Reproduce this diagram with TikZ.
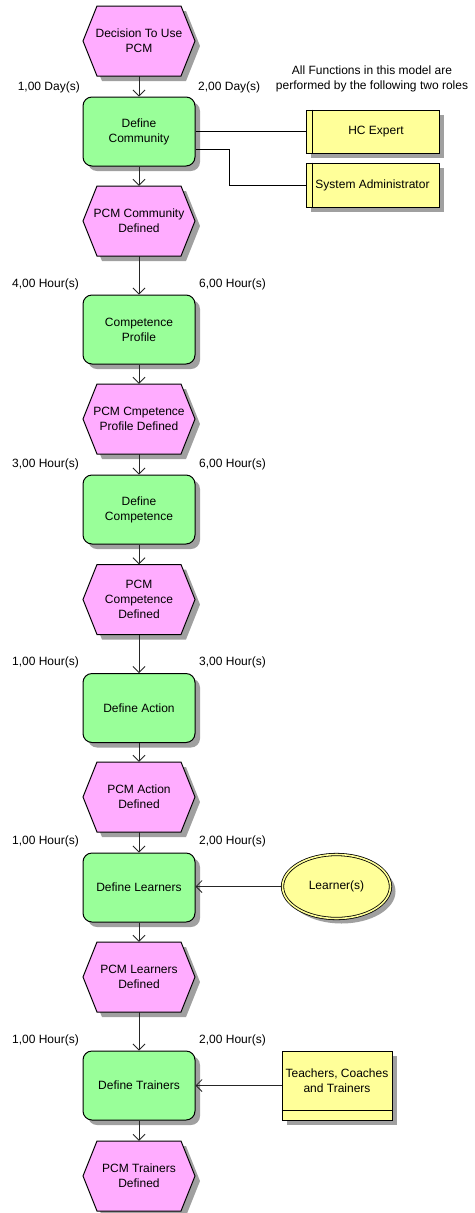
\documentclass[tikz,border=0pt]{standalone}
\usepackage{fontspec}
\setmainfont{Liberation Sans}
\usetikzlibrary{calc,arrows.meta,shadows,shapes.geometric}
\definecolor{evfill}{RGB}{255,172,255}
\definecolor{fnfill}{RGB}{153,255,153}
\definecolor{ylfill}{RGB}{255,255,153}
\definecolor{shadowc}{RGB}{160,160,160}
\newcommand{\nfont}{\fontsize{12}{14.8}\selectfont}
\newcommand{\EvNode}[4]{%
  \fill[shadowc, shift={(#2+5,#3+5)}] (-56,0) -- (-42,-35) -- (42,-35) -- (56,0) -- (42,35) -- (-42,35) -- cycle;
  \filldraw[evshape, shift={(#2,#3)}] (-56,0) -- (-42,-35) -- (42,-35) -- (56,0) -- (42,35) -- (-42,35) -- cycle;
  \node[evtxt] (#1) at (#2,#3) {#4};
}
\tikzset{
  evshape/.style={draw=black, fill=evfill, line width=1pt, line join=miter},
  evtxt/.style={font=\nfont, align=center, inner sep=0pt, minimum width=112pt, minimum height=70pt},
  shad/.style={drop shadow={shadow xshift=5pt, shadow yshift=-5pt, fill=shadowc, opacity=1}},
  fnbox/.style={draw=black, line width=1pt, fill=fnfill, rounded corners=9pt, minimum width=112pt, minimum height=69pt, inner sep=2pt, align=center, font=\nfont, shad},
  rolebox/.style={draw=black, line width=1pt, fill=ylfill, inner sep=0pt, font=\nfont, align=center, shad},
  lbl/.style={font=\nfont, inner sep=0pt},
  flow/.style={draw=black!85, line width=0.8pt, -{Straight Barb[length=6pt,width=12pt]}},
  link/.style={draw=black, line width=0.8pt},
}
\begin{document}
\begin{tikzpicture}[x=1pt,y=-1pt]
\useasboundingbox (0,0) rectangle (474,1213);

% events
\EvNode{E1}{139}{41}{Decision To Use\\PCM}
\EvNode{E2}{139}{221}{PCM Community\\Defined}
\EvNode{E3}{139}{419}{PCM Cmpetence\\Profile Defined}
\EvNode{E4}{139}{599.5}{PCM\\Competence\\Defined}
\EvNode{E5}{139}{797}{PCM Action\\Defined}
\EvNode{E6}{139}{977}{PCM Learners\\Defined}
\EvNode{E7}{139}{1176}{PCM Trainers\\Defined}

% functions
\node[fnbox] (F1) at (139,131.5) {Define\\Community};
\node[fnbox] (F2) at (139,329.5) {Competence\\Profile};
\node[fnbox] (F3) at (139,509.5) {Define\\Competence};
\node[fnbox] (F4) at (139,708) {Define Action};
\node[fnbox] (F5) at (139,887.5) {Define Learners};
\node[fnbox] (F6) at (139,1085.5) {Define Trainers};

% flow arrows
\draw[flow] (E1.south) -- (F1.north);
\draw[flow] (F1.south) -- (E2.north);
\draw[flow] (E2.south) -- (F2.north);
\draw[flow] (F2.south) -- (E3.north);
\draw[flow] (E3.south) -- (F3.north);
\draw[flow] (F3.south) -- (E4.north);
\draw[flow] (E4.south) -- (F4.north);
\draw[flow] (F4.south) -- (E5.north);
\draw[flow] (E5.south) -- (F5.north);
\draw[flow] (F5.south) -- (E6.north);
\draw[flow] (E6.south) -- (F6.north);
\draw[flow] (F6.south) -- (E7.north);

% time labels
\node[lbl, anchor=east] (L1) at (80,87) {1,00 Day(s)};
\node[lbl, anchor=west] (R1) at (198,87) {2,00 Day(s)};
\node[lbl, anchor=east] (L2) at (79,284) {4,00 Hour(s)};
\node[lbl, anchor=west] (R2) at (199,284) {6,00 Hour(s)};
\node[lbl, anchor=east] (L3) at (79,464) {3,00 Hour(s)};
\node[lbl, anchor=west] (R3) at (199,464) {6,00 Hour(s)};
\node[lbl, anchor=east] (L4) at (79,662) {1,00 Hour(s)};
\node[lbl, anchor=west] (R4) at (199,662) {3,00 Hour(s)};
\node[lbl, anchor=east] (L5) at (79,841) {1,00 Hour(s)};
\node[lbl, anchor=west] (R5) at (199,841) {2,00 Hour(s)};
\node[lbl, anchor=east] (L6) at (79,1040) {1,00 Hour(s)};
\node[lbl, anchor=west] (R6) at (199,1040) {2,00 Hour(s)};

% roles note
\node[lbl, align=center] (note) at (372,78.5) {All Functions in this model are\\performed by the following two roles};

% role boxes
\node[rolebox, minimum width=133pt, minimum height=43pt] (hc) at (372.5,131.5) {\hspace*{7pt}HC Expert};
\draw[line width=1pt] ($(hc.north west)+(7,0)$) -- ($(hc.south west)+(7,0)$);
\node[rolebox, minimum width=133pt, minimum height=44pt] (sa) at (372.5,185) {System Administrator};
\draw[line width=1pt] ($(sa.north west)+(7,0)$) -- ($(sa.south west)+(7,0)$);

\draw[link] (F1.east) -- (hc.west);
\draw[link] ([yshift=-18pt]F1.east) -- ++(34,0) |- (sa.west);

% learners
\node[draw=black, line width=0.8pt, double=ylfill, double distance=1.6pt, fill=ylfill, ellipse, minimum width=108pt, minimum height=64pt, inner sep=0pt, font=\nfont, shad] (lrn) at (336.5,886.5) {Learner(s)};
\draw[flow] (lrn.west) -- (lrn.west -| F5.east);

% teachers
\node[rolebox, minimum width=110pt, minimum height=69pt] (tch) at (337,1085.5) {};
\draw[line width=1pt] ($(tch.south west)+(0,-10)$) -- ($(tch.south east)+(0,-10)$);
\node[lbl, align=center] (tchtxt) at (337,1080.5) {Teachers, Coaches\\and Trainers};
\draw[flow] (tch.west) -- (F6.east);
\end{tikzpicture}
\end{document}
